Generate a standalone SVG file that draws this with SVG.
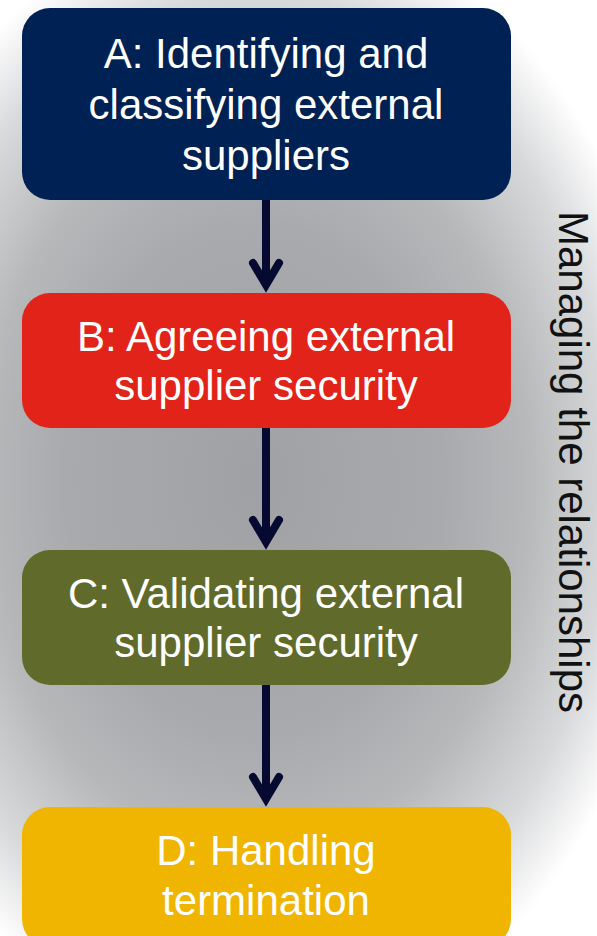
<svg xmlns="http://www.w3.org/2000/svg" width="597" height="936" viewBox="0 0 597 936">
  <defs>
    <radialGradient id="bg" cx="255" cy="480" r="1" gradientUnits="userSpaceOnUse" gradientTransform="translate(255 480) scale(420 570) translate(-255 -480)">
      <stop offset="0" stop-color="#9fa1a4"/>
      <stop offset="0.45" stop-color="#a8aaad"/>
      <stop offset="0.65" stop-color="#b6b8ba"/>
      <stop offset="0.85" stop-color="#d8d9db"/>
      <stop offset="1" stop-color="#ffffff"/>
    </radialGradient>
    <marker id="chev" markerUnits="userSpaceOnUse" orient="auto" markerWidth="60" markerHeight="60" viewBox="-40 -30 60 60" refX="0" refY="0" overflow="visible">
      <path d="M -22 -13 L 0 0 L -22 13" fill="none" stroke="#070a30" stroke-width="8" stroke-linecap="round" stroke-linejoin="miter" stroke-miterlimit="10"/>
    </marker>
    <style>
      .box-text { font-family: "Liberation Sans", Arial, sans-serif; font-size: 42px; fill: #ffffff; text-anchor: middle; }
      .side { font-family: "Liberation Sans", Arial, sans-serif; font-size: 42px; fill: #111111; text-anchor: middle; }
      .conn { stroke: #070a30; stroke-width: 8; fill: none; marker-end: url(#chev); }
    </style>
  </defs>
  <rect x="0" y="0" width="597" height="936" fill="url(#bg)"/>
  <g id="connectors">
    <line class="conn" x1="266" y1="200" x2="266" y2="285"/>
    <line class="conn" x1="266" y1="428" x2="266" y2="542"/>
    <line class="conn" x1="266" y1="685" x2="266" y2="799"/>
  </g>
  <g id="nodeA">
    <rect x="22" y="8" width="489" height="192" rx="28" fill="#002153"/>
    <text class="box-text"><tspan x="266" y="68">A: Identifying and</tspan><tspan x="266" y="119">classifying external</tspan><tspan x="266" y="170">suppliers</tspan></text>
  </g>
  <g id="nodeB">
    <rect x="22" y="293" width="489" height="135" rx="28" fill="#e2231a"/>
    <text class="box-text"><tspan x="266" y="351">B: Agreeing external</tspan><tspan x="266" y="400">supplier security</tspan></text>
  </g>
  <g id="nodeC">
    <rect x="22" y="550" width="489" height="135" rx="28" fill="#5f6a2b"/>
    <text class="box-text"><tspan x="266" y="608">C: Validating external</tspan><tspan x="266" y="657">supplier security</tspan></text>
  </g>
  <g id="nodeD">
    <rect x="22" y="807" width="489" height="140" rx="28" fill="#efb500"/>
    <text class="box-text"><tspan x="266" y="865">D: Handling</tspan><tspan x="266" y="915">termination</tspan></text>
  </g>
  <g id="label">
    <text class="side" transform="translate(559 462) rotate(90)" x="0" y="0">Managing the relationships</text>
  </g>
</svg>
